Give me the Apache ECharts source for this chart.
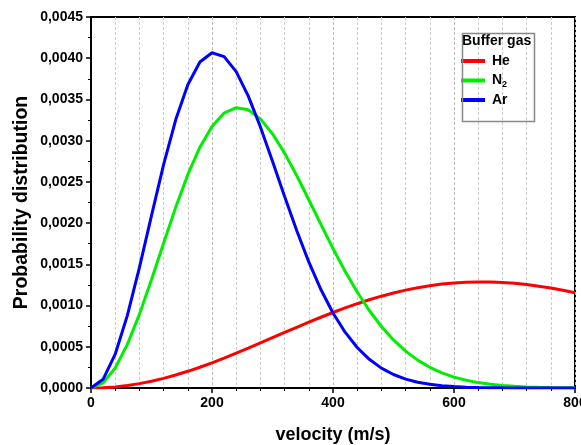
<!DOCTYPE html>
<html>
<head>
<meta charset="utf-8">
<script src="https://cdn.jsdelivr.net/npm/echarts@6/dist/echarts.min.js"></script>
<style>html,body{margin:0;padding:0;background:#fff;}#c{width:581px;height:445px;}</style>
</head>
<body>
<div id="c"></div>
<script>
// velocity (m/s), step 20
var velocity = [0,20,40,60,80,100,120,140,160,180,200,220,240,260,280,300,320,340,360,380,400,420,440,460,480,500,520,540,560,580,600,620,640,660,680,700,720,740,760,780,800];
var he = [0,0.0000034,0.0000134,0.0000300,0.0000530,0.0000821,0.0001170,0.0001573,0.0002025,0.0002521,0.0003056,0.0003624,0.0004218,0.0004833,0.0005461,0.0006097,0.0006733,0.0007363,0.0007982,0.0008583,0.0009160,0.0009709,0.0010224,0.0010701,0.0011137,0.0011528,0.0011872,0.0012167,0.0012411,0.0012603,0.0012743,0.0012832,0.0012870,0.0012858,0.0012798,0.0012692,0.0012541,0.0012349,0.0012120,0.0011854,0.0011558];
var n2 = [0,0.0000617,0.000242,0.000526,0.000893,0.001313,0.001756,0.002191,0.002587,0.002921,0.003173,0.003335,0.003400,0.003374,0.003264,0.003083,0.002849,0.002577,0.002283,0.001984,0.001692,0.001416,0.001164,0.000940,0.000746,0.000583,0.000447,0.000338,0.000251,0.000184,0.000132,0.0000938,0.0000655,0.0000450,0.0000304,0.0000203,0.0000134,0.0000087,0.0000055,0.0000035,0.0000022];
var ar = [0,0.000105,0.000410,0.000878,0.001459,0.002090,0.002710,0.003253,0.003679,0.003954,0.004066,0.004020,0.003837,0.003540,0.003167,0.002751,0.002324,0.001911,0.001529,0.001194,0.000910,0.000677,0.000491,0.000348,0.000241,0.000164,0.000108,0.0000702,0.0000445,0.0000276,0.0000168,0.0000100,0.0000058,0.0000033,0.0000018,0.0000010,0.0000005,0.0000003,0.0000001,0.0000001,0];
var seriesNames = ['He','N2','Ar'];
var seriesColors = ['#ff0000','#00ee00','#0000ff'];
var legendTitle = 'Buffer gas';
var xName = 'velocity (m/s)';
var yName = 'Probability distribution';

function pairs(arr){ return velocity.map(function(v,i){ return [v, arr[i]]; }); }
var allData = [he, n2, ar];

var chart = echarts.init(document.getElementById('c'), null, {renderer:'canvas'});
var font = 'Arial, "Liberation Sans", sans-serif';
chart.setOption({
  animation:false,
  backgroundColor:'#fff',
  grid:{left:91,right:6,top:17,bottom:57,containLabel:false,outerBoundsMode:'none',show:true,borderColor:'#000',borderWidth:2,backgroundColor:'transparent'},
  title:{text:legendTitle,left:462,top:34,padding:0,textStyle:{fontFamily:font,fontSize:14,fontWeight:'bold',color:'#000'}},
  legend:{
    orient:'vertical',left:461,top:54,padding:0,itemGap:4,itemWidth:24,itemHeight:4,
    icon:'rect',
    data:seriesNames,
    formatter:function(n){ return n==='N2' ? '{a|N}{s|2}' : '{a|'+n+'}'; },
    textStyle:{fontFamily:font,color:'#000',padding:[0,0,0,2],rich:{
      a:{fontFamily:font,fontSize:14,fontWeight:'bold',color:'#000',lineHeight:16},
      s:{fontFamily:font,fontSize:9,fontWeight:'bold',color:'#000',padding:[8,0,0,0],lineHeight:16}
    }}
  },
  graphic:[{type:'rect',left:460,top:31,shape:{x:0,y:0,width:72,height:88},style:{fill:'none',stroke:'#888',lineWidth:1.5},z:100}],
  xAxis:{
    type:'value',min:0,max:800,interval:200,
    name:xName,nameLocation:'middle',nameGap:38,nameMoveOverlap:false,
    nameTextStyle:{fontFamily:font,fontSize:18,fontWeight:'bold',color:'#000'},
    axisLine:{show:true,lineStyle:{color:'#000',width:2}},
    axisTick:{show:true,inside:false,length:5,lineStyle:{color:'#000',width:1.5}},
    minorTick:{show:true,splitNumber:5,length:3,lineStyle:{color:'#000',width:1}},
    splitLine:{show:true,lineStyle:{color:'#bbb',type:[3,2],width:1}},
    minorSplitLine:{show:true,lineStyle:{color:'#ccc',type:[3,2],width:1}},
    axisLabel:{fontFamily:font,fontSize:14,fontWeight:'bold',color:'#000',margin:8}
  },
  yAxis:{
    type:'value',min:0,max:0.0045,interval:0.0005,
    name:yName,nameLocation:'middle',nameGap:59,nameMoveOverlap:false,
    nameTextStyle:{fontFamily:font,fontSize:19.5,fontWeight:'bold',color:'#000'},
    axisLine:{show:true,lineStyle:{color:'#000',width:2}},
    axisTick:{show:true,inside:false,length:5,lineStyle:{color:'#000',width:1.5}},
    minorTick:{show:true,splitNumber:2,length:3,lineStyle:{color:'#000',width:1}},
    splitLine:{show:false},
    axisLabel:{fontFamily:font,fontSize:14,fontWeight:'bold',color:'#000',margin:8,
      formatter:function(v){ return v.toFixed(4).replace('.',','); }}
  },
  series:seriesNames.map(function(n,i){
    return {name:n,type:'line',data:pairs(allData[i]),showSymbol:false,symbol:'none',smooth:false,
      lineStyle:{color:seriesColors[i],width:3},itemStyle:{color:seriesColors[i]},z:2+i};
  })
});
</script>
</body>
</html>
